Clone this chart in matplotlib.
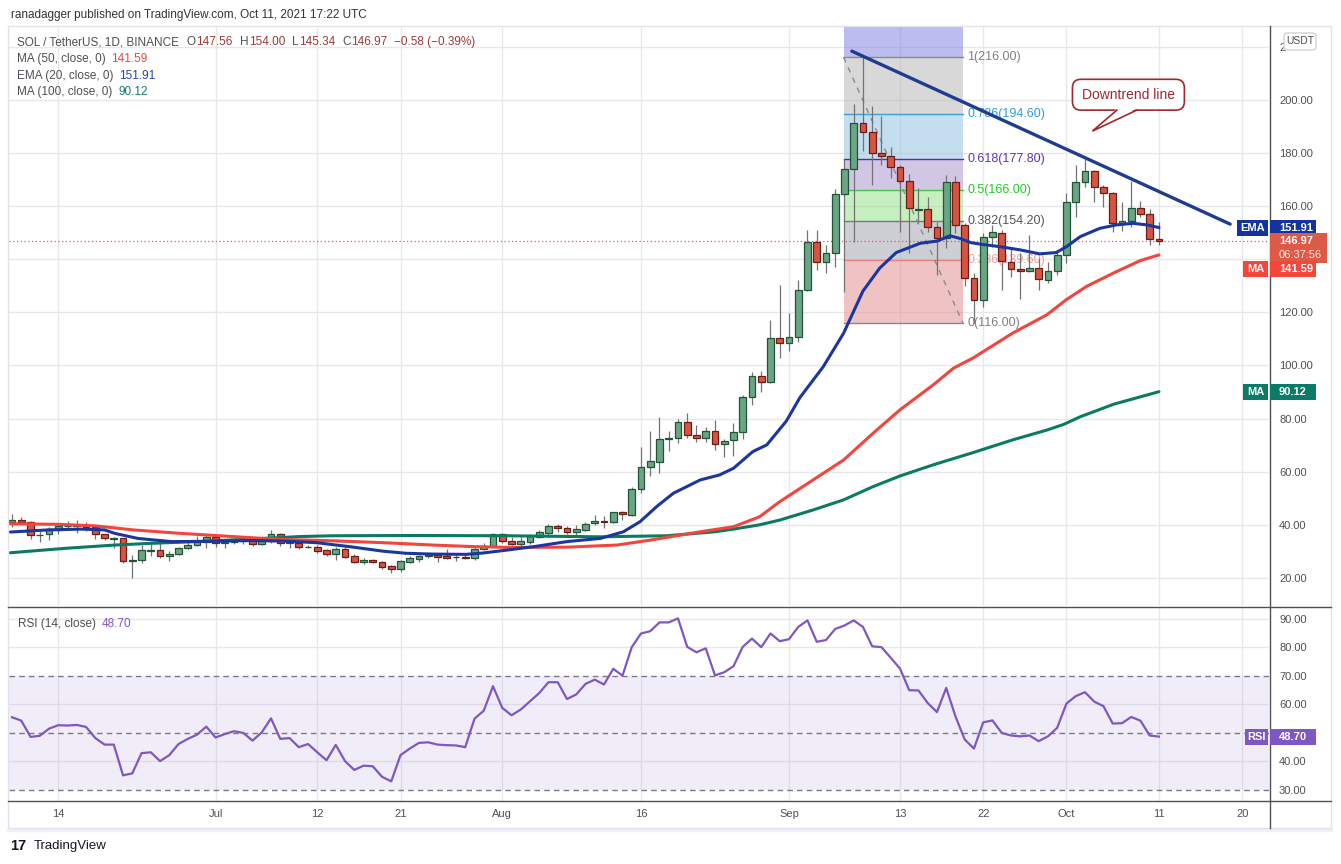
import matplotlib
matplotlib.use("Agg")
import matplotlib.pyplot as plt
from matplotlib.patches import Rectangle, FancyBboxPatch, Polygon
from matplotlib.lines import Line2D
from matplotlib.ticker import FuncFormatter
import numpy as np
import pandas as pd

plt.rcParams['font.family'] = ['Liberation Sans', 'DejaVu Sans']

# SOL / TetherUS daily candles, 2021-06-09 .. 2021-10-11
start_date = "2021-06-09"
opens = [41.0, 41.7, 41.0, 36.1, 36.4, 38.2, 39.5, 39.6, 39.6, 39.1,
         36.4, 34.8, 34.9, 26.4, 26.6, 30.3, 30.6, 28.3, 29.2, 31.4,
         32.6, 33.7, 35.3, 33.0, 33.7, 34.0, 34.3, 32.8, 33.9, 36.4,
         33.2, 33.2, 31.6, 31.8, 30.4, 28.9, 31.1, 28.1, 25.9, 26.7,
         26.2, 24.4, 23.3, 26.2, 27.3, 28.3, 28.5, 28.4, 27.9, 28.0,
         27.7, 31.0, 31.9, 36.4, 33.9, 32.9, 33.7, 35.6, 37.1, 39.6,
         38.9, 37.3, 38.2, 40.6, 41.5, 41.0, 44.7, 43.8, 53.4, 61.9,
         63.8, 72.5, 72.6, 78.6, 73.8, 72.6, 75.5, 70.3, 71.8, 74.8,
         88.0, 96.2, 93.9, 110.2, 108.3, 110.6, 128.4, 146.3, 138.8, 142.2,
         164.4, 173.8, 191.1, 188.0, 179.8, 179.0, 174.6, 169.5, 158.6, 158.7,
         152.2, 147.8, 169.1, 152.8, 132.8, 124.6, 148.2, 150.0, 139.1, 136.3,
         135.7, 136.5, 132.3, 135.5, 141.6, 161.6, 169.2, 173.2, 167.2, 164.8,
         153.7, 154.3, 159.1, 156.9, 147.56]
highs = [44.1, 42.8, 41.3, 37.8, 39.1, 40.6, 41.5, 41.8, 41.0, 39.3,
         36.7, 35.5, 35.2, 28.6, 32.4, 32.8, 33.0, 30.1, 31.7, 33.9,
         35.8, 36.3, 35.8, 34.0, 34.8, 35.0, 34.7, 35.5, 38.1, 37.0,
         34.7, 33.6, 32.3, 32.3, 30.9, 31.5, 31.5, 29.2, 27.4, 27.2,
         26.4, 24.9, 26.8, 28.2, 28.6, 29.4, 29.3, 30.8, 28.6, 29.3,
         31.8, 33.0, 36.8, 36.8, 35.5, 35.8, 36.6, 38.1, 40.3, 40.3,
         39.5, 39.8, 41.1, 43.7, 43.3, 45.0, 45.3, 54.4, 69.2, 75.3,
         80.7, 75.4, 79.7, 82.0, 77.6, 76.8, 79.3, 72.2, 78.2, 88.9,
         97.7, 97.9, 117.1, 130.3, 119.9, 132.2, 151.0, 151.0, 145.3, 166.3,
         177.6, 198.4, 216.0, 197.6, 193.9, 182.3, 175.4, 172.0, 166.7, 163.5,
         154.1, 171.6, 171.4, 153.7, 134.7, 150.0, 153.0, 151.1, 144.7, 142.5,
         149.1, 140.3, 139.0, 143.5, 165.0, 175.4, 177.7, 173.6, 167.8, 165.4,
         161.6, 169.5, 161.9, 158.8, 154.0]
lows = [39.1, 40.7, 34.8, 33.7, 34.3, 36.5, 38.3, 37.0, 37.8, 34.6,
        34.2, 31.2, 25.5, 19.9, 25.5, 28.2, 27.7, 26.4, 28.8, 30.9,
        32.2, 31.2, 31.8, 31.2, 32.8, 32.9, 32.2, 32.4, 33.3, 32.1,
        31.4, 30.8, 31.2, 29.5, 28.4, 26.7, 27.6, 25.8, 25.3, 25.8,
        23.3, 21.7, 22.4, 25.6, 26.2, 27.7, 26.2, 27.0, 26.5, 27.1,
        26.8, 30.4, 31.6, 33.0, 32.5, 31.9, 32.8, 35.0, 35.6, 37.4,
        36.6, 35.8, 37.7, 39.9, 38.9, 40.6, 42.0, 43.2, 52.1, 58.4,
        59.4, 67.9, 70.7, 72.6, 71.0, 71.0, 68.1, 65.6, 66.0, 72.5,
        85.1, 90.1, 93.5, 102.9, 105.6, 109.0, 128.2, 135.9, 134.9, 136.9,
        127.8, 146.6, 180.8, 167.9, 175.4, 170.4, 150.3, 142.4, 153.5, 150.4,
        134.0, 144.1, 150.0, 129.9, 116.0, 122.1, 144.7, 128.4, 133.4, 124.9,
        135.1, 128.4, 131.1, 134.0, 138.4, 156.0, 167.2, 161.6, 159.8, 150.1,
        150.6, 152.2, 156.0, 145.3, 145.34]
closes = [41.8, 41.0, 36.1, 36.3, 38.3, 39.6, 39.7, 39.8, 39.1, 36.4,
          34.9, 35.0, 26.4, 26.6, 30.4, 30.6, 28.3, 29.2, 31.4, 32.6,
          33.9, 35.3, 33.1, 33.6, 34.0, 34.1, 32.7, 33.9, 36.4, 33.1,
          33.4, 31.5, 31.8, 30.2, 28.9, 31.1, 28.0, 25.9, 26.6, 26.1,
          24.3, 23.3, 26.3, 27.4, 28.1, 28.5, 27.9, 27.7, 27.8, 27.7,
          30.8, 31.9, 36.4, 33.9, 32.9, 33.9, 35.8, 37.2, 39.5, 38.9,
          37.3, 38.3, 40.5, 41.4, 41.0, 44.7, 43.9, 53.4, 61.9, 63.9,
          72.5, 72.7, 78.6, 73.8, 72.6, 75.5, 70.4, 71.7, 74.8, 88.0,
          96.2, 93.9, 110.2, 108.3, 110.6, 128.4, 146.3, 138.8, 142.2, 164.4,
          173.8, 191.1, 188.0, 179.8, 179.0, 174.6, 169.5, 159.1, 158.9, 152.2,
          147.8, 169.2, 152.9, 132.8, 124.6, 148.2, 150.1, 139.3, 136.2, 135.7,
          136.5, 132.4, 135.5, 141.6, 161.6, 169.2, 173.2, 167.2, 164.8, 153.7,
          154.3, 159.1, 157.0, 147.55, 146.97]

# RSI (14, close), one value per candle
rsi = [55.5, 54.3, 48.6, 49.0, 51.5, 52.7, 52.6, 52.8, 52.1, 48.2,
       45.9, 45.9, 35.1, 35.8, 42.9, 43.2, 40.1, 42.2, 46.1, 47.9,
       49.4, 52.2, 48.4, 49.6, 50.6, 50.0, 47.3, 50.2, 55.1, 47.9,
       48.2, 45.0, 46.1, 43.2, 40.4, 45.8, 40.1, 37.0, 38.5, 38.3,
       34.6, 33.0, 42.2, 44.5, 46.5, 46.7, 45.9, 45.7, 45.6, 45.0,
       55.0, 57.8, 66.4, 58.8, 56.2, 58.2, 61.1, 64.0, 67.8, 67.8,
       61.9, 63.5, 67.2, 68.7, 67.0, 72.5, 70.1, 80.1, 84.9, 85.7,
       88.8, 88.8, 90.2, 80.2, 78.3, 79.7, 70.2, 71.3, 73.4, 80.2,
       83.1, 80.1, 84.9, 82.2, 82.9, 87.2, 89.5, 82.0, 82.6, 86.5,
       87.7, 89.5, 87.2, 80.4, 80.1, 76.4, 72.6, 65.0, 64.9, 60.5,
       57.3, 65.8, 55.8, 47.7, 44.5, 53.7, 54.4, 50.0, 49.1, 48.8,
       49.1, 47.1, 48.8, 51.8, 60.3, 62.9, 64.3, 61.0, 59.4, 53.3,
       53.4, 55.6, 54.3, 49.1, 48.70]

# moving averages (day index, value)
ema_x = [-0.2, 3.9, 7.5, 10.0, 11.1, 13.6, 17.2, 21.5, 25.7, 29.3, 32.9, 36.5, 40.1, 42.6,
         45.5, 49.1, 50.9, 53.5, 56.4, 60.0, 63.6, 66.1, 67.9, 69.7, 71.5, 74.4, 76.5, 78.0,
         80.1, 81.6, 83.7, 85.2, 87.7, 89.9, 92.0, 93.8, 95.6, 98.2, 100.0, 101.4, 102.5,
         103.7, 104.6, 106.8, 109.0, 111.1, 112.9, 114.0, 115.5, 117.6, 119.4, 121.2, 122.7, 124.0]
ema_y = [37.3, 38.1, 38.4, 38.1, 36.8, 34.9, 33.7, 33.8, 34.1, 33.9, 33.3, 31.8, 30.1, 29.3,
         29.0, 28.9, 29.4, 30.5, 31.8, 33.7, 34.9, 37.4, 41.2, 46.9, 51.9, 56.9, 58.8, 61.3,
         67.6, 70.1, 79.0, 88.0, 99.5, 112.1, 128.0, 136.6, 142.5, 146.0, 146.8, 148.8, 147.8,
         146.2, 145.7, 144.7, 143.5, 142.0, 142.5, 144.7, 148.5, 151.6, 152.9, 153.5, 152.9, 151.91]
ma50_x = [-0.2, 5.0, 9.1, 13.1, 18.2, 25.7, 29.3, 34.7, 40.1, 45.5, 50.0, 53.8, 60.0, 65.4,
          69.1, 74.4, 78.0, 80.8, 83.0, 86.6, 89.9, 93.1, 96.0, 99.6, 101.8, 103.9, 108.2,
          111.9, 114.0, 116.2, 119.1, 122.0, 124.0]
ma50_y = [40.4, 40.2, 39.6, 38.1, 36.8, 35.2, 34.5, 34.0, 33.3, 32.4, 31.8, 31.5, 31.6, 32.4,
          34.3, 37.4, 39.3, 43.0, 48.7, 56.9, 64.4, 74.5, 83.3, 92.7, 99.0, 102.8, 112.2,
          119.1, 124.8, 129.8, 134.8, 139.5, 141.59]
ma100_x = [-0.2, 5.9, 11.1, 14.7, 20.0, 26.0, 31.1, 34.7, 43.7, 53.5, 63.6, 70.8, 76.0, 78.0,
           80.8, 83.0, 86.6, 89.9, 93.1, 96.0, 99.6, 103.9, 108.2, 111.9, 113.7, 115.5, 119.1, 124.0]
ma100_y = [29.5, 31.2, 32.4, 33.0, 33.7, 34.7, 35.6, 35.9, 36.0, 35.9, 35.5, 35.9, 37.4, 38.4,
           40.0, 41.8, 45.6, 49.4, 54.4, 58.4, 62.6, 67.2, 72.0, 75.7, 77.8, 80.7, 85.4, 90.12]

# fibonacci retracement drawing
fib_ratios = ["1", "0.786", "0.618", "0.5", "0.382", "0.236", "0"]
fib_prices = [216.0, 194.6, 177.8, 166.0, 154.2, 139.6, 116.0]
fib_days = [89.9, 102.8]

# downtrend line and its callout
trend_days = [90.8, 131.7]
trend_prices = [218.3, 153.2]
callout_text = "Downtrend line"

tick_dates = ["2021-06-14", "2021-07-01", "2021-07-12", "2021-07-21", "2021-08-01", "2021-08-16",
              "2021-09-01", "2021-09-13", "2021-09-22", "2021-10-01", "2021-10-11", "2021-10-20"]
tick_labels = ["14", "Jul", "12", "21", "Aug", "16", "Sep", "13", "22", "Oct", "11", "20"]

opens, highs, lows, closes = map(np.array, (opens, highs, lows, closes))
days = np.arange(len(closes))
tick_days = (pd.to_datetime(tick_dates) - pd.Timestamp(start_date)).days

W, H = 1341, 864
fig = plt.figure(figsize=(W / 100, H / 100), dpi=100)
fig.patch.set_facecolor("white")


def fx(px):
    return px / W


def fy(py):
    return 1 - py / H


ax = fig.add_axes([fx(9), fy(606), fx(1269) - fx(9), fy(26.7) - fy(606)])
rax = fig.add_axes([fx(9), fy(801), fx(1269) - fx(9), fy(607) - fy(801)], sharex=ax)

GRID = "#e8e8ec"
TXT = "#4f4f55"

# ---- main price pane
ax.set_xlim(-0.33, 135.9)
ax.set_ylim(9.46, 227.5)
price_ticks = list(range(20, 221, 20))
for p in price_ticks:
    ax.axhline(p, color=GRID, lw=1, zorder=0)
for d in tick_days:
    ax.axvline(d, color=GRID, lw=1, zorder=0)
    rax.axvline(d, color=GRID, lw=1, zorder=0)

# fib bands (semi-transparent, grid shows through)
band_cols = ["#7b7be5", "#b3b3b3", "#8bbde1", "#a78fcd", "#8fe181", "#9f9fad", "#e18989"]
band_edges = [227.5] + fib_prices
for i, c in enumerate(band_cols):
    ax.fill_between(fib_days, band_edges[i + 1], band_edges[i], color=c, alpha=0.5, lw=0, zorder=0.5)
level_cols = ["#8a8a8a", "#3d9fd9", "#5a2ca0", "#43c743", "#787878", "#f08080", "#8a8a8a"]
label_cols = ["#808080", "#2e9be0", "#5e35b1", "#22cc22", "#555555", "#f0a0a0", "#808080"]
for r, p, lc, tc in zip(fib_ratios, fib_prices, level_cols, label_cols):
    ax.plot(fib_days, [p, p], color=lc, lw=1, zorder=0.8)
    ax.text(fib_days[1] + 0.5, p, "%s(%.2f)" % (r, p), color=tc, fontsize=9,
            va="center", ha="left", zorder=1.8)
ax.plot(fib_days, [fib_prices[0], fib_prices[-1]], color="#8a8a8a", lw=1,
        ls=(0, (4, 4)), zorder=0.9)

# candles
up = closes >= opens
body_lo = np.minimum(opens, closes)
body_h = np.maximum(np.abs(closes - opens), 0.15)
ax.vlines(days, lows, highs, color="#737375", lw=0.9, zorder=2)
ax.bar(days[up], body_h[up], bottom=body_lo[up], width=0.72, color="#6ba583",
       edgecolor="#225437", lw=0.9, zorder=3)
ax.bar(days[~up], body_h[~up], bottom=body_lo[~up], width=0.72, color="#d75442",
       edgecolor="#6b1e15", lw=0.9, zorder=3)

# moving averages
ax.plot(ma100_x, ma100_y, color="#0b7a62", lw=2.2, zorder=4, solid_capstyle="round")
ax.plot(ma50_x, ma50_y, color="#f2453d", lw=2.2, zorder=4, solid_capstyle="round")
ax.plot(ema_x, ema_y, color="#1a37a0", lw=2.2, zorder=4, solid_capstyle="round")

# last price dotted line
ax.axhline(closes[-1], color="#ef5350", lw=0.9, ls=(0, (1, 2)), zorder=1.5)

# downtrend line
ax.plot(trend_days, trend_prices, color="#1e3d8f", lw=2.4, zorder=5, solid_capstyle="round")

# callout box with tail
asp = 3.48
box_cx, box_cy, box_w, box_h = 120.7, 201.9, 12.1, 11.6
ax.add_patch(FancyBboxPatch((box_cx - box_w / 2, box_cy - box_h / 2), box_w, box_h,
                            boxstyle="round,pad=0,rounding_size=0.9", mutation_aspect=asp,
                            fc="white", ec="#a5272d", lw=1.2, zorder=6))
tail_base = [119.45, 121.6]
tail_tip = (116.8, 188.2)
yb = box_cy - box_h / 2
ax.add_patch(Polygon([(tail_base[0], yb + 0.6), tail_tip, (tail_base[1], yb + 0.6)],
                     closed=True, fc="white", ec="none", zorder=6.5))
ax.plot([tail_base[0], tail_tip[0], tail_base[1]], [yb, tail_tip[1], yb],
        color="#a5272d", lw=1.2, zorder=6.6, solid_joinstyle="miter")
ax.text(box_cx, box_cy, callout_text, color="#a5272d", fontsize=10, ha="center",
        va="center", zorder=7)


# labels hidden behind the price tags are left blank, the top one is clipped by the USDT box
def price_fmt(v, pos):
    if round(v) == 140:
        return ""
    if round(v) == 220:
        return "2"
    return "%.2f" % v


def rsi_fmt(v, pos):
    return "" if round(v) == 50 else "%.2f" % v


ax.yaxis.tick_right()
ax.set_yticks(price_ticks)
ax.yaxis.set_major_formatter(FuncFormatter(price_fmt))
ax.tick_params(axis="y", length=0, pad=7.2, labelsize=8, labelcolor=TXT)
ax.tick_params(axis="x", length=0, labelbottom=False)
for s in ax.spines.values():
    s.set_visible(False)

# ---- RSI pane
rax.set_ylim(26.1, 94.2)
for g in [40, 60, 80, 90]:
    rax.axhline(g, color=GRID, lw=1, zorder=0)
rax.axhspan(30, 70, color="#7e57c2", alpha=0.1, lw=0, zorder=0.5)
for g in [30, 50, 70]:
    rax.axhline(g, color="#787b86", lw=1, ls=(0, (4, 3)), zorder=1)
rax.plot(days, rsi, color="#7e57c2", lw=1.6, zorder=3)
rax.yaxis.tick_right()
rax.set_yticks([30, 40, 50, 60, 70, 80, 90])
rax.yaxis.set_major_formatter(FuncFormatter(rsi_fmt))
rax.tick_params(axis="y", length=0, pad=7.2, labelsize=8, labelcolor=TXT)
rax.set_xticks(tick_days)
rax.set_xticklabels(tick_labels)
rax.tick_params(axis="x", length=0, pad=6, labelsize=8, labelcolor=TXT)
for s in rax.spines.values():
    s.set_visible(False)

# ---- frame lines
fig.add_artist(Rectangle((fx(8), fy(828)), fx(1331) - fx(8), (828 - 26) / H,
                         transform=fig.transFigure, fill=False, ec="#e0e3eb", lw=1, zorder=10))
for yy in [606.5, 801]:
    fig.add_artist(Line2D([fx(8), fx(1331)], [fy(yy), fy(yy)], color="#505058", lw=1, zorder=11))
fig.add_artist(Line2D([fx(1269.5), fx(1269.5)], [fy(26), fy(828)], color="#505058", lw=1, zorder=11))
fig.add_artist(Line2D([fx(8), fx(1331)], [fy(829.5), fy(829.5)], color="#eef0f5", lw=2.5, zorder=9))

# ---- texts
renderer = fig.canvas.get_renderer()


def text_row(x_px, y_px, parts, size=8.5):
    # parts: (text, colour, gap after in px)
    x = x_px
    for s, c, gap in parts:
        t = fig.text(fx(x), fy(y_px), s, color=c, fontsize=size, va="center", ha="left", zorder=12)
        x += t.get_window_extent(renderer).width + gap


fig.text(fx(10.7), fy(15), "ranadagger published on TradingView.com, Oct 11, 2021 17:22 UTC",
         fontsize=8.5, color="#333333", va="center")

OHLC = "#9c3a3a"
chg = closes[-1] - closes[-2]
row = [("SOL / TetherUS, 1D, BINANCE", TXT, 8)]
for lab, val in [("O", opens[-1]), ("H", highs[-1]), ("L", lows[-1]), ("C", closes[-1])]:
    row += [(lab, TXT, 0.5), ("%.2f" % val, OHLC, 7)]
row += [("\u2212%.2f (\u2212%.2f%%)" % (abs(chg), abs(chg) / closes[-2] * 100), OHLC, 0)]
text_row(16.7, 42.3, row)
text_row(16.7, 59, [("MA (50, close, 0)", TXT, 6), ("%.2f" % ma50_y[-1], "#f2453d", 0)])
text_row(16.7, 76, [("EMA (20, close, 0)", TXT, 6), ("%.2f" % ema_y[-1], "#2343b0", 0)])
text_row(16.7, 92.3, [("MA (100, close, 0)", TXT, 6), ("%.2f" % ma100_y[-1], "#0b7f6e", 0)])
text_row(18, 624, [("RSI (14, close)", TXT, 6), ("%.2f" % rsi[-1], "#7e57c2", 0)])

# TradingView footer
fig.text(fx(10), fy(846), "17", fontsize=10.5, fontweight="heavy", color="#131722", va="center")
fig.text(fx(33.5), fy(846), "TradingView", fontsize=9.5, color="#131722", va="center")

# ---- price scale tags


def py(axis, value):
    return H - axis.transData.transform((0, value))[1]


def box(x0p, x1p, top, h, color, z=20):
    fig.add_artist(Rectangle((fx(x0p), fy(top + h)), fx(x1p) - fx(x0p), h / H,
                             transform=fig.transFigure, fc=color, ec="none", zorder=z))


def tag(center, value_txt, color, left_txt=None, left_x0=1243, z=20):
    top = center - 8
    box(1270, 1316, top, 16, color, z)
    fig.text(fx(1279), fy(center), value_txt, color="white", fontsize=8, fontweight="bold",
             va="center", ha="left", zorder=z + 1)
    if left_txt:
        box(left_x0, 1268, top, 16, color, z)
        fig.text(fx((left_x0 + 1268) / 2), fy(center), left_txt, color="white", fontsize=8,
                 fontweight="bold", va="center", ha="center", zorder=z + 1)


# USDT box
fig.add_artist(FancyBboxPatch((fx(1284), fy(50)), fx(1316) - fx(1284), 17 / H,
                              boxstyle="round,pad=0,rounding_size=0.003", transform=fig.transFigure,
                              fc="white", ec="#c8c8d0", lw=0.8, zorder=19))
fig.text(fx(1300), fy(41.5), "USDT", fontsize=7.5, color=TXT, ha="center", va="center", zorder=20)

tag(py(ax, ema_y[-1]), "%.2f" % ema_y[-1], "#12349c", "EMA", left_x0=1237)
cur_top = py(ax, closes[-1]) - 8
box(1270, 1327, cur_top, 30, "#dc5a47", 21)
fig.text(fx(1279), fy(cur_top + 8), "%.2f" % closes[-1], color="white", fontsize=8,
         fontweight="bold", va="center", zorder=22)
fig.text(fx(1279), fy(cur_top + 22), "06:37:56", color="#fbe3df", fontsize=8,
         va="center", zorder=22)
ma50_c = max(py(ax, ma50_y[-1]), cur_top + 30 - 1.5 + 8)
tag(ma50_c, "%.2f" % ma50_y[-1], "#f5463a", "MA", z=23)
tag(py(ax, ma100_y[-1]), "%.2f" % ma100_y[-1], "#0b7a66", "MA")
tag(py(rax, rsi[-1]), "%.2f" % rsi[-1], "#7e57c2", "RSI", left_x0=1245)

fig.savefig("out.png", dpi=100)
